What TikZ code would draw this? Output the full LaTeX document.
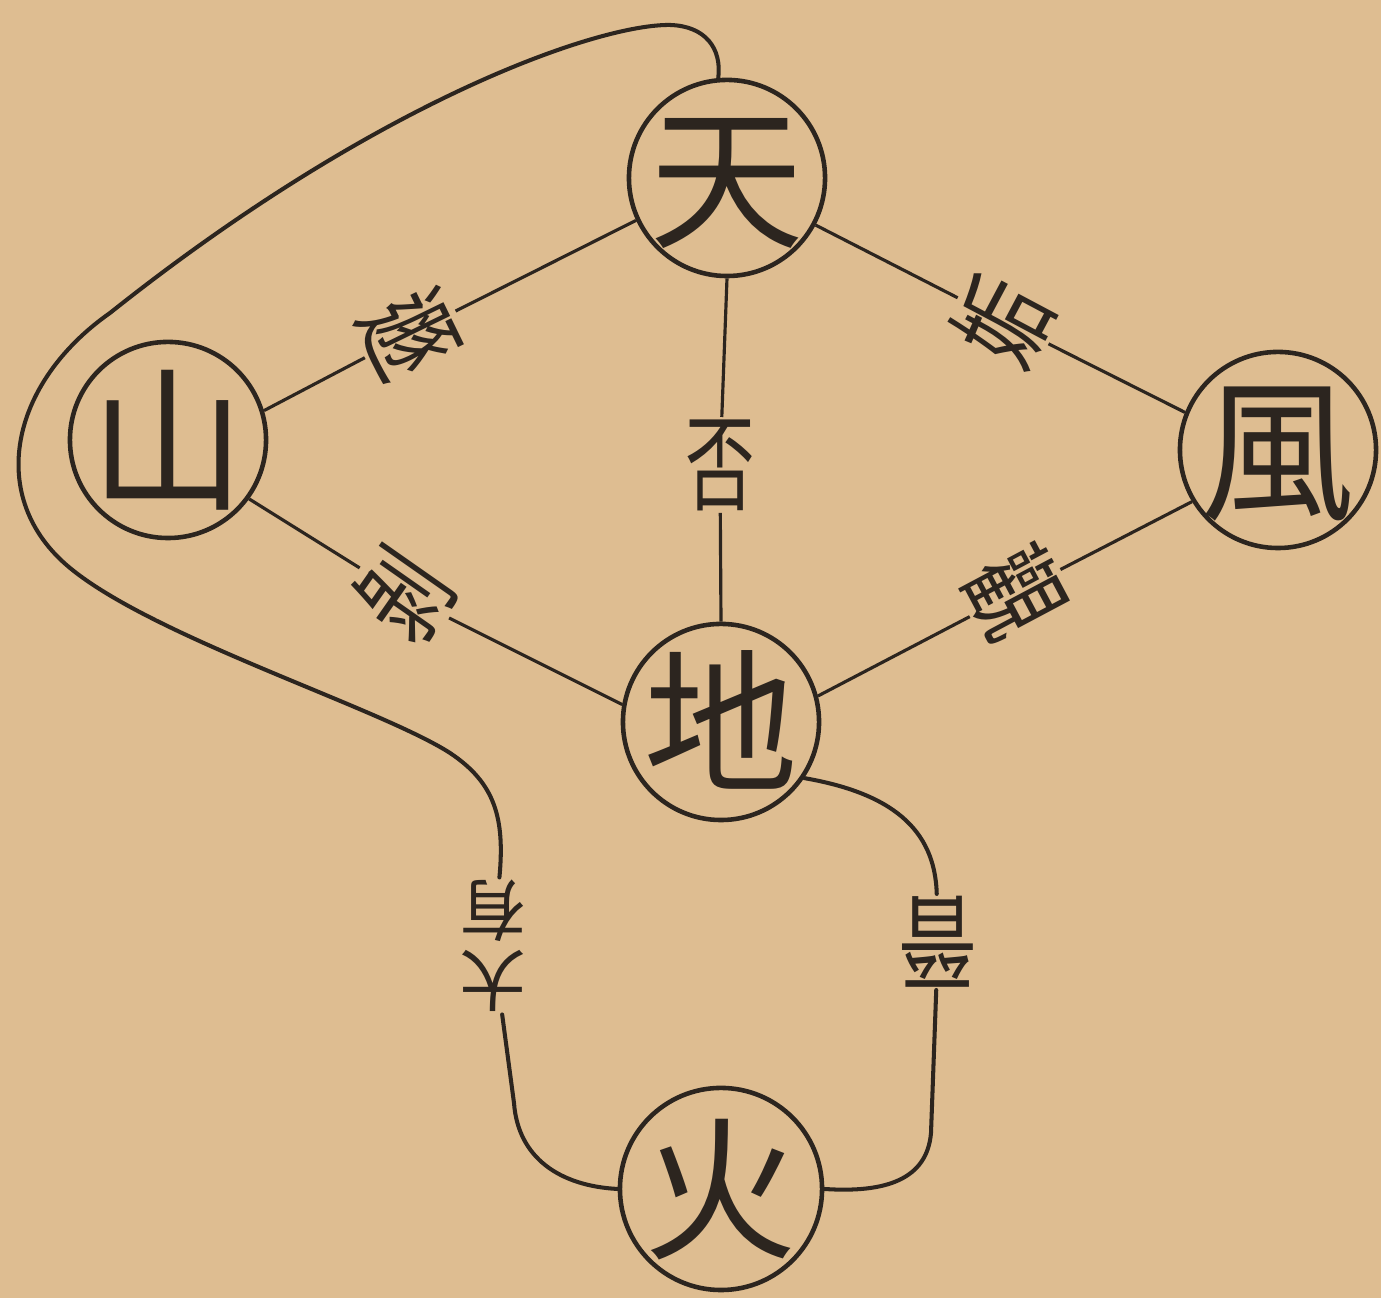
\documentclass[tikz,border=0pt]{standalone}
\usepackage{fontspec}
\newfontfamily\cjk{Noto Sans CJK TC}
\usetikzlibrary{positioning}
\definecolor{paper}{RGB}{222,189,145}
\definecolor{ink}{RGB}{44,37,31}
% glyph centred in its circle without widening it
\newcommand{\trichar}[1]{\makebox[0pt]{\raisebox{-0.38em}[0pt][0pt]{#1}}}

\begin{document}
\begin{tikzpicture}[x=0.01cm,y=0.01cm,
  trigram/.style={circle,draw=ink,line width=1.3pt,minimum size=1.96cm,inner sep=0pt,text=ink,font=\cjk\fontsize{44}{44}\selectfont},
  gua/.style={inner sep=0.5pt,text=ink,font=\cjk\fontsize{30}{30}\selectfont},
  link/.style={draw=ink,line width=0.9pt},
  strand/.style={draw=ink,line width=1.15pt,line cap=round}]
\fill[paper] (0,0) rectangle (1381,1298);
\useasboundingbox (0,0) rectangle (1381,1298);

% trigrams
\node[trigram] (tian) at (727,1120) {\trichar{天}};
\node[trigram] (shan) at (168,858) {\trichar{山}};
\node[trigram] (feng) at (1278,848) {\trichar{風}};
\node[trigram] (di) at (721,576) {\trichar{地}};
\node[trigram,minimum size=2.02cm] (huo) at (721,109) {\trichar{火}};

% hexagram names, top towards the upper trigram
\node[gua,rotate=-64,xscale=0.72] (dun) at (410,964) {遯};
\node[gua,rotate=62,xscale=0.72] (gou) at (1003,977) {姤};
\node[gua,xscale=0.66] (pi) at (720,833) {否};
\node[gua,rotate=55,xscale=0.72] (bo) at (403,703) {剝};
\node[gua,rotate=-62,xscale=0.75] (guan) at (1015,705) {觀};
\node[gua,rotate=180,xscale=0.75] (jin) at (938,356) {晉};
\node[gua,rotate=180,align=center,font=\cjk\fontsize{19}{20}\selectfont] (dayou) at (493,352) {大\\有};

% straight links
\draw[link] (tian.205) -- (dun) -- (shan.17);
\draw[link] (tian.-28) -- (gou) -- (feng.158);
\draw[link] (tian.south) -- (pi) -- (di.north);
\draw[link] (shan.-36) -- (bo) -- (di.170);
\draw[link] (feng.211) -- (guan) -- (di.15);

% curved links
\draw[strand] (di.-34) .. controls (890,505) and (935,470) .. (jin);
\draw[strand] (jin) -- (931,165) .. controls (927,118) and (885,105) .. (huo.east);
\draw[strand] (tian.95) .. controls (722,1250) and (705,1272) .. (670,1273)
  .. controls (600,1274) and (380,1200) .. (110,985)
  .. controls (10,915) and (-15,800) .. (70,730)
  .. controls (155,660) and (380,590) .. (450,545)
  .. controls (495,515) and (505,480) .. (dayou);
\draw[strand] (dayou) -- (514,195) .. controls (518,140) and (560,112) .. (huo.west);
\end{tikzpicture}
\end{document}
